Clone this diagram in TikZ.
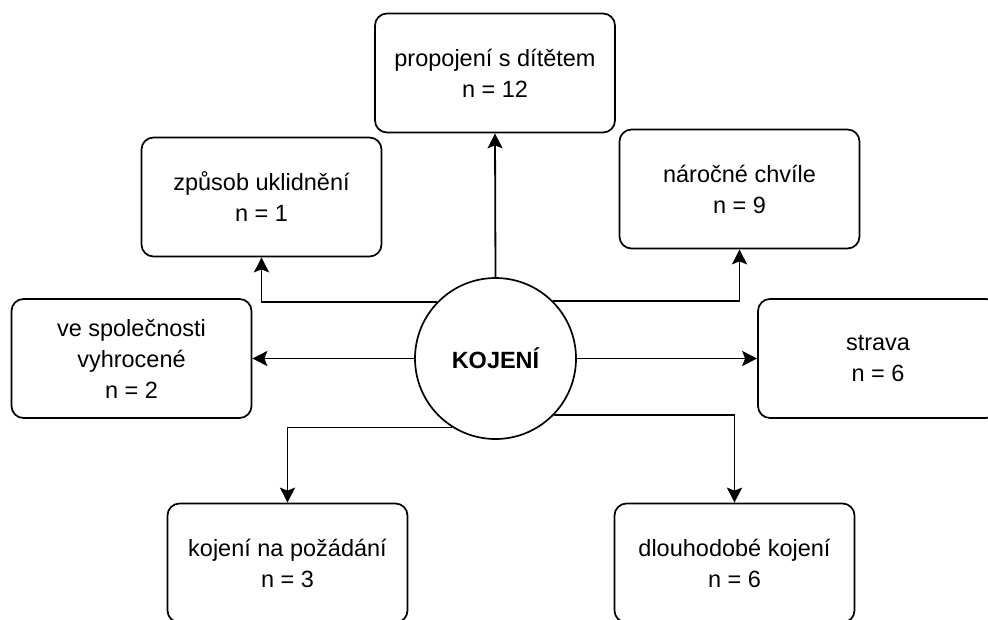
\documentclass[tikz,border=0pt]{standalone}
\usepackage{fontspec}
\setmainfont{Liberation Sans}
\usetikzlibrary{arrows,arrows.meta,calc,shapes.misc}

\begin{document}
\begin{tikzpicture}[x=1pt,y=-1pt,
    theme/.style={draw,line width=1.7pt,rounded corners=12pt,minimum width=240pt,minimum height=119pt,align=center,inner sep=0pt,font=\fontsize{23.5}{31}\selectfont},
    hub/.style={draw,circle,line width=1.7pt,minimum size=161pt,inner sep=0pt,font=\fontsize{23.5}{31}\selectfont\bfseries},
    link/.style={line width=1.8pt,-{Stealth[length=15pt,width=15pt,inset=3pt]}}]
            \useasboundingbox (0, 0) rectangle (988, 619);

            \node[hub] (kojeni) at (495.5, 358.5) {KOJENÍ};

            \node[theme] (propojeni) at (495, 73) {propojení s dítětem\\n = 12};
            \node[theme] (zpusob) at (261.5, 197) {způsob uklidnění\\n = 1};
            \node[theme] (narocne) at (739.5, 189) {náročné chvíle\\n = 9};
            \node[theme] (spolecnost) at (131.5, 358.5) {ve společnosti\\vyhrocené\\n = 2};
            \node[theme] (strava) at (878, 358.5) {strava\\n = 6};
            \node[theme] (pozadani) at (287.5, 563) {kojení na požádání\\n = 3};
            \node[theme] (dlouhodobe) at (734.5, 563) {dlouhodobé kojení\\n = 6};

            \draw[link] (kojeni.north) -- (propojeni.south);
            \draw[link] (kojeni.136) -| (zpusob.south);
            \draw[link] (kojeni.45) -| (narocne.south);
            \draw[link] (kojeni.west) -- (spolecnost.east);
            \draw[link] (kojeni.east) -- (strava.west);
            \draw[link] (kojeni.238) -| (pozadani.north);
            \draw[link] (kojeni.-44) -| (dlouhodobe.north);
        \end{tikzpicture}
\end{document}
